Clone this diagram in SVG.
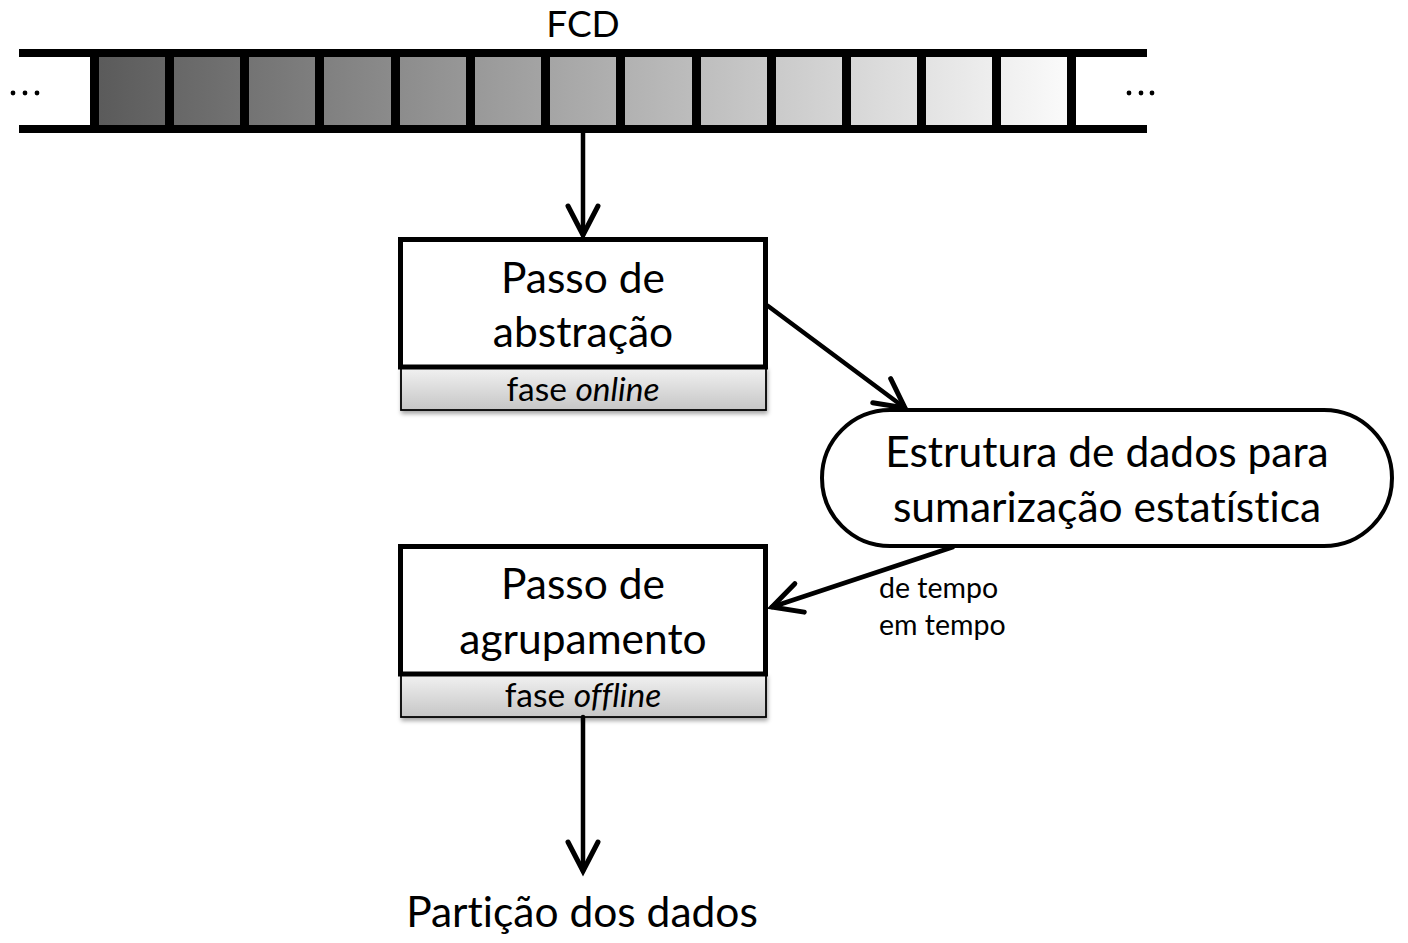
<svg xmlns="http://www.w3.org/2000/svg" width="1408" height="943" viewBox="0 0 1408 943">
<defs>
<style>
.t{font-family:Lato,"Open Sans",sans-serif;fill:#000;text-anchor:middle;font-variant-ligatures:none;font-feature-settings:"liga" 0,"dlig" 0}
.big{font-size:42.5px}
.lbl{font-size:33.5px}
.box{fill:#fff;stroke:#000;stroke-width:5}
.band{fill:url(#bandG);stroke:#000;stroke-width:1.8}
.con{fill:none;stroke:#000;stroke-width:4.5;stroke-linecap:round}
.sep{fill:#000}
</style>
<linearGradient id="cellG" gradientUnits="userSpaceOnUse" x1="94" y1="0" x2="1072" y2="0">
<stop offset="0" stop-color="#5a5a5a"/>
<stop offset="1" stop-color="#fbfbfb"/>
</linearGradient>
<linearGradient id="bandG" x1="0" y1="0" x2="0" y2="1">
<stop offset="0" stop-color="#f2f2f2"/>
<stop offset="1" stop-color="#c6c6c6"/>
</linearGradient>
<filter id="sh" x="-5%" y="-20%" width="110%" height="160%">
<feDropShadow dx="1" dy="3" stdDeviation="2" flood-color="#000" flood-opacity="0.35"/>
</filter>
<marker id="ah" markerUnits="userSpaceOnUse" markerWidth="60" markerHeight="60" refX="0" refY="0" orient="auto" overflow="visible">
<path d="M -29 -15 L 0 0 L -29 15" fill="none" stroke="#000" stroke-width="5" stroke-linecap="round" stroke-linejoin="miter"/>
</marker>
</defs>
<rect width="1408" height="943" fill="#fff"/>

<g id="fcd">
<text class="t" x="583" y="37" style="font-size:37px">FCD</text>
<rect x="94" y="57" width="978" height="68" fill="url(#cellG)"/>
<rect x="19" y="49" width="1128" height="8" class="sep"/>
<rect x="19" y="125" width="1128" height="8" class="sep"/>
<g class="sep">
<rect x="90" y="55" width="9" height="72"/>
<rect x="165" y="55" width="9" height="72"/>
<rect x="240" y="55" width="9" height="72"/>
<rect x="315" y="55" width="9" height="72"/>
<rect x="391" y="55" width="9" height="72"/>
<rect x="466" y="55" width="9" height="72"/>
<rect x="541" y="55" width="9" height="72"/>
<rect x="616" y="55" width="9" height="72"/>
<rect x="692" y="55" width="9" height="72"/>
<rect x="767" y="55" width="9" height="72"/>
<rect x="842" y="55" width="9" height="72"/>
<rect x="917" y="55" width="9" height="72"/>
<rect x="992" y="55" width="9" height="72"/>
<rect x="1067" y="55" width="9" height="72"/>
</g>
<g fill="#000">
<circle cx="13" cy="93" r="2.4"/><circle cx="25" cy="93" r="2.4"/><circle cx="37" cy="93" r="2.4"/>
<circle cx="1129" cy="93" r="2.4"/><circle cx="1141" cy="93" r="2.4"/><circle cx="1152" cy="93" r="2.4"/>
</g>
</g>

<g id="abstracao">
<rect x="401" y="367" width="365" height="43" class="band" filter="url(#sh)"/>
<rect x="400.5" y="239.5" width="365" height="127.5" class="box"/>
<text class="t big" x="583" y="293">Passo de</text>
<text class="t big" x="583" y="347">abstração</text>
<text class="t lbl" x="583" y="401">fase <tspan font-style="italic">online</tspan></text>
</g>

<g id="estrutura">
<rect x="822" y="410" width="570" height="136" rx="68" ry="68" fill="#fff" stroke="#000" stroke-width="4"/>
<text class="t big" x="1107" y="467">Estrutura de dados para</text>
<text class="t big" x="1107" y="522">sumarização estatística</text>
</g>

<g id="agrupamento">
<rect x="401" y="674" width="365" height="43" class="band" filter="url(#sh)"/>
<rect x="400.5" y="546.5" width="365" height="127.5" class="box"/>
<text class="t big" x="583" y="599">Passo de</text>
<text class="t big" x="583" y="654">agrupamento</text>
<text class="t lbl" x="583" y="707">fase <tspan font-style="italic">offline</tspan></text>
</g>

<g id="particao">
<text class="t" x="582" y="927" style="font-size:42.5px">Partição dos dados</text>
</g>

<g id="connectors">
<line class="con" x1="583" y1="133" x2="583" y2="235" marker-end="url(#ah)"/>
<line class="con" x1="768" y1="306" x2="905" y2="408" marker-end="url(#ah)"/>
<line class="con" x1="953" y1="547" x2="772" y2="607" marker-end="url(#ah)"/>
<line class="con" x1="583" y1="717" x2="583" y2="871" marker-end="url(#ah)"/>
<text class="t" x="879" y="598" style="font-size:28.5px;text-anchor:start">de tempo</text>
<text class="t" x="879" y="635" style="font-size:28.5px;text-anchor:start">em tempo</text>
</g>
</svg>
